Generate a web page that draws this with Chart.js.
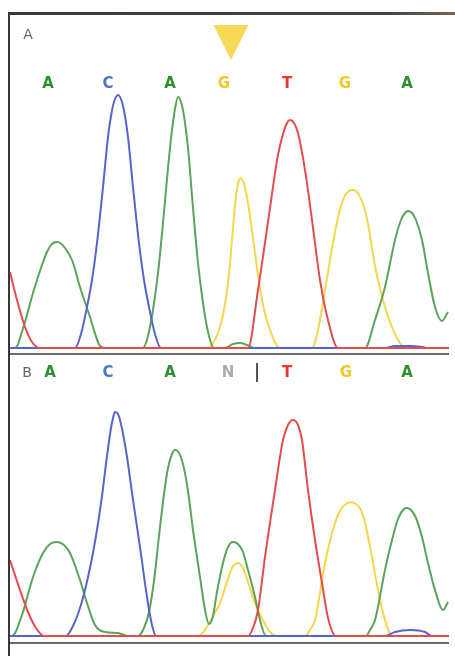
<!DOCTYPE html>
<html>
<head>
<meta charset="utf-8">
<script src="https://cdn.jsdelivr.net/npm/chart.js@4.4.0/dist/chart.umd.min.js"></script>
<style>
  html, body { margin:0; padding:0; background:#fff; }
  body { width:455px; height:656px; position:relative; overflow:hidden; }
  #frameTop { position:absolute; left:8px; top:12px; width:447px; height:3px;
    background:linear-gradient(to right,#3a3a3a 0%,#444 85%,#7a6252 100%); }
  #frameLeft { position:absolute; left:8px; top:12px; width:2px; height:644px; background:#3a3636; }
  .sep { position:absolute; left:10px; width:439px; height:2px; background:#6e6a6a; }
  #cA { position:absolute; left:10px; top:15px; }
  #cB { position:absolute; left:10px; top:355px; }
</style>
</head>
<body>
<div id="frameTop"></div>
<div id="frameLeft"></div>
<canvas id="cA" width="445" height="338"></canvas>
<canvas id="cB" width="445" height="290"></canvas>
<div class="sep" style="top:353px"></div>
<div class="sep" style="top:642px"></div>
<script>
// ---------- DATA (scan position, signal) ----------
// Panel A (reference sequence)
const redA    = [[0,76],[7,48],[15,21],[22,6],[30,0],
                 [238,0],[248,58],[258,126],[268,193],[273,214],[277,225],[280,228],[284,225],[288,215],[295,178],[302,128],[310,68],[318,28],[328,0],[439,0]];
const greenA  = [[0,0],[5,0],[14,23],[23,55],[32,83],[37,96],[41,103],[44,105.5],[47,106],[51,104.5],[55,100],[62,88],[70,61],[80,31],[90,2],[95,0],
                 [133,0],[138,12],[143,38],[148,75],[153,125],[158,180],[162,218],[165,239],[168,251],[171,246],[174,232],[178,200],[183,140],[188,85],[193,45],[198,16],[204,0],
                 [215,0],[223,4],[230,5],[237,3],[245,0],
                 [355,0],[365,28],[375,61],[385,108],[391,128],[395,135],[398,137],[402,135],[406,128],[412,108],[418,75],[425,41],[432,27],[438,36]];
const blueA   = [[0,0],[65,0],[71,14],[77,41],[82,68],[87,105],[93,161],[98,211],[101,232],[104,246],[108,253],[112,246],[115,232],[118,211],[123,161],[129,105],[134,68],[139,41],[145,14],[151,0],
                 [375,0],[385,2],[400,2],[412,1],[418,0],[439,0]];
const yellowA = [[0,0],[197,0],[203,5],[209,18],[214,38],[218,65],[222,108],[224,132],[226,152],[228,164],[230,170],[233,167],[236,156],[240,132],[245,95],[252,48],[260,18],[270,0],
                 [302,0],[308,18],[315,58],[325,116],[331,142],[336,154],[343,158],[349,153],[354,141],[358,124],[365,82],[375,41],[388,8],[396,0],[439,0]];
const basesA   = ['A','C','A','G','T','G','A'];
const basePosA = [38, 98, 160, 214, 277, 335, 397];
const markerPosA = 221;   // mutation marker (triangle)

// Panel B (sample sequence)
const redB    = [[0,76],[10,46],[18,24],[26,8],[34,0],
                 [238,0],[243,8],[248,26],[255,79],[265,146],[273,196],[278,211],[283,216],[288,211],[292,196],[298,146],[305,96],[312,53],[318,18],[326,0],[439,0]];
const greenB  = [[0,0],[2,0],[12,21],[23,59],[33,83],[40,92],[47,94],[54,91],[60,83],[70,56],[77,33],[85,11],[95,4],[108,3],[118,0],
                 [128,0],[134,8],[139,24],[144,55],[149,100],[154,142],[158,168],[162,182],[165,186],[169,183],[173,172],[178,145],[183,106],[190,59],[195,26],[199,12],
                 [203,20],[207,44],[213,73],[218,89],[223,94],[228,92],[233,84],[238,66],[245,39],[250,16],[256,0],
                 [356,0],[360,6],[365,16],[375,66],[382,96],[388,117],[393,126],[397,128],[401,126],[406,118],[412,99],[418,73],[425,46],[433,26],[438,34]];
const blueB   = [[0,0],[56,0],[62,8],[68,22],[74,42],[80,68],[86,100],[92,140],[97,180],[101,208],[103,218],[105,224],[108,222],[111,212],[117,179],[123,136],[130,89],[137,39],[142,11],[146,0],
                 [375,0],[385,4],[400,6],[415,4],[422,0],[439,0]];
const yellowB = [[0,0],[188,0],[195,6],[202,18],[210,33],[216,51],[222,68],[228,73],[233,68],[238,54],[245,33],[253,16],[260,4],[268,0],
                 [295,0],[300,6],[305,16],[315,73],[325,113],[331,127],[336,132],[341,134],[346,132],[351,126],[355,113],[362,79],[368,46],[375,16],[382,0],[439,0]];
const basesB   = ['A','C','A','N','T','G','A'];
const basePosB = [40, 98, 160, 218, 277, 336, 397];
const cursorPosB = 247;

// ---------- STYLE ----------
const traceColors = { A:'#5ca35c', C:'#5565cb', G:'#f5d64c', T:'#e24e4e' };
const baseColors  = { A:'#2f8f2f', C:'#4f74c4', G:'#f2c824', T:'#e23a30', N:'#aaaaaa' };

const toXY = arr => arr.map(p => ({x:p[0], y:p[1]}));
function ds(data, color) {
  return { data: toXY(data), borderColor: color, borderWidth: 2, pointRadius: 0,
           fill: false, cubicInterpolationMode: 'monotone' };
}

const overlay = {
  id: 'overlay',
  afterDatasetsDraw(chart, args, o) {
    const ctx = chart.ctx, xs = chart.scales.x;
    ctx.save();
    ctx.textAlign = 'center'; ctx.textBaseline = 'middle';
    ctx.font = '14px "DejaVu Sans"';
    ctx.fillStyle = '#666';
    ctx.fillText(o.panel, o.panelX, o.panelY);
    ctx.font = 'bold 15px "DejaVu Sans"';
    o.bases.forEach((b, i) => {
      ctx.fillStyle = baseColors[b];
      ctx.fillText(b, xs.getPixelForValue(o.pos[i]), o.letterY);
    });
    if (o.marker !== undefined) {
      const mx = xs.getPixelForValue(o.marker);
      ctx.fillStyle = '#f7d95a';
      ctx.beginPath();
      ctx.moveTo(mx - 17.5, 10); ctx.lineTo(mx + 17.5, 10); ctx.lineTo(mx, 45);
      ctx.closePath(); ctx.fill();
    }
    if (o.cursor !== undefined) {
      const cx = Math.round(xs.getPixelForValue(o.cursor));
      ctx.fillStyle = '#555';
      ctx.fillRect(cx - 1, o.letterY - 10, 2, 19);
    }
    ctx.restore();
  }
};

function makeChart(id, traces, yMin, yMax, ov) {
  new Chart(document.getElementById(id), {
    type: 'line',
    data: { datasets: [ ds(traces.red, traceColors.T), ds(traces.blue, traceColors.C),
                        ds(traces.green, traceColors.A), ds(traces.yellow, traceColors.G) ] },
    options: {
      responsive: false, animation: false, devicePixelRatio: 1,
      layout: { padding: 0 },
      scales: {
        x: { type: 'linear', display: false, min: 0, max: 445 },
        y: { type: 'linear', display: false, min: yMin, max: yMax }
      },
      plugins: { legend: { display: false }, tooltip: { enabled: false }, overlay: ov }
    },
    plugins: [overlay]
  });
}

makeChart('cA', { red: redA, green: greenA, blue: blueA, yellow: yellowA }, -5, 333,
  { panel: 'A', panelX: 18, panelY: 20, bases: basesA, pos: basePosA, letterY: 69, marker: markerPosA });
makeChart('cB', { red: redB, green: greenB, blue: blueB, yellow: yellowB }, -9, 281,
  { panel: 'B', panelX: 17, panelY: 18, bases: basesB, pos: basePosB, letterY: 18, cursor: cursorPosB });
</script>
</body>
</html>
